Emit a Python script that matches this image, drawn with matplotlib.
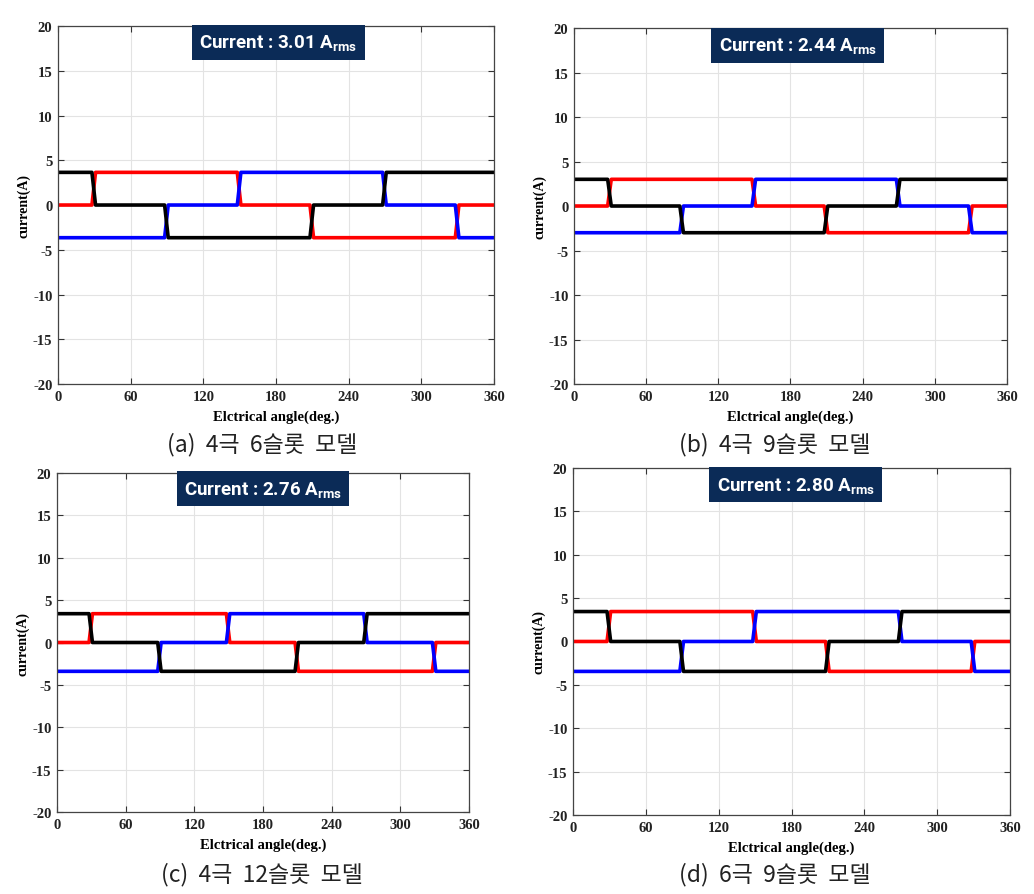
import matplotlib.pyplot as plt

# six-step phase currents, levels in units of the peak current
black_angle = [0, 28, 31, 88, 91, 208, 211, 268, 271, 360]
black_level = [1, 1, 0, 0, -1, -1, 0, 0, 1, 1]
red_angle = [0, 28, 31, 148, 151, 208, 211, 328, 331, 360]
red_level = [0, 0, 1, 1, 0, 0, -1, -1, 0, 0]
blue_angle = [0, 88, 91, 148, 151, 268, 271, 328, 331, 360]
blue_level = [-1, -1, 0, 0, 1, 1, 0, 0, -1, -1]

# peak current of each model (A) and its rms value
peaks = [3.65, 3.0, 3.4, 3.45]
rms_labels = ["3.01", "2.44", "2.76", "2.80"]
captions = ["(a)  4극  6슬롯  모델", "(b)  4극  9슬롯  모델",
            "(c)  4극  12슬롯  모델", "(d)  6극  9슬롯  모델"]

x_ticks = [0, 60, 120, 180, 240, 300, 360]
y_ticks = [-20, -15, -10, -5, 0, 5, 10, 15, 20]

# layout (figure fractions) and box / caption placement
axes_rects = [[0.0561, 0.5698, 0.4217, 0.4000],
              [0.5551, 0.5698, 0.4188, 0.3978],
              [0.0551, 0.0916, 0.3985, 0.3788],
              [0.5542, 0.0883, 0.4226, 0.3877]]
box_pos = [(0.505, 0.955), (0.517, 0.952), (0.5, 0.953), (0.509, 0.952)]
caption_pos = [(262, 445), (775, 445), (262, 875), (775, 875)]

plt.rcParams['mathtext.default'] = 'regular'
plt.rcParams['axes.unicode_minus'] = False
serif = ['Liberation Serif', 'DejaVu Serif']

fig = plt.figure(figsize=(10.34, 8.95), dpi=100)

for i in range(4):
    ax = fig.add_axes(axes_rects[i])
    pk = peaks[i]
    ax.plot(red_angle, [v * pk for v in red_level], color='#ff0000', lw=2.6)
    ax.plot(blue_angle, [v * pk for v in blue_level], color='#0000ff', lw=2.6)
    ax.plot(black_angle, [v * pk for v in black_level], color='black', lw=2.6)

    ax.set_xlim(0, 360)
    ax.set_ylim(-20, 20)
    ax.set_xticks(x_ticks)
    ax.set_yticks(y_ticks)
    ax.grid(True, color='#e3e3e3', lw=0.8)
    ax.set_axisbelow(True)
    ax.tick_params(direction='in', top=True, right=True, length=4,
                   width=0.8, color='#333333', pad=4)
    for lab in ax.get_xticklabels() + ax.get_yticklabels():
        lab.set_fontfamily(serif)
        lab.set_fontweight('bold')
        lab.set_fontsize(10.5)
        lab.set_color('#222222')
    for sp in ax.spines.values():
        sp.set_color('#444444')
        sp.set_linewidth(0.9)

    ax.set_xlabel("Elctrical angle(deg.)", fontfamily=serif,
                  fontweight='bold', fontsize=10.5, labelpad=5)
    ax.set_ylabel("current(A)", fontfamily=serif, fontweight='bold',
                  fontsize=10, labelpad=2)

    bx, by = box_pos[i]
    ax.text(bx, by, "Current : " + rms_labels[i] + r" A$_{rms}$",
            transform=ax.transAxes, ha='center', va='center',
            color='white', fontsize=13.5, fontweight='bold',
            fontfamily=['Liberation Sans Narrow', 'Roboto', 'DejaVu Sans'],
            bbox=dict(boxstyle='square,pad=0.4', facecolor='#0b2b57',
                      edgecolor='none'), zorder=5)

    cx, cy = caption_pos[i]
    fig.text(cx / 1034, 1 - cy / 895, captions[i], ha='center', va='center',
             fontsize=16.5, fontfamily=['Noto Sans CJK KR', 'DejaVu Sans'],
             color='#222222')

fig.savefig("out.png", dpi=100)
